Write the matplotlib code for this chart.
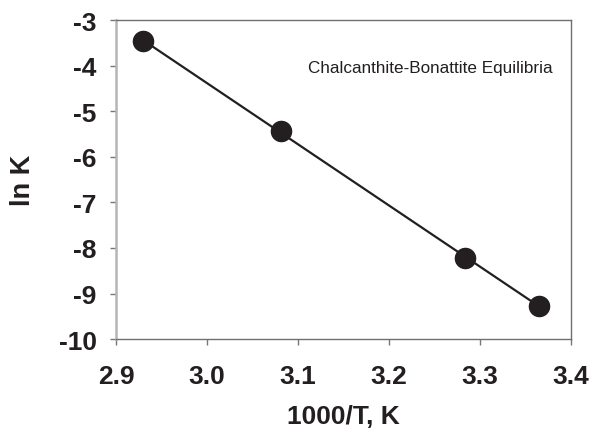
import numpy as np
import matplotlib
matplotlib.use("Agg")
import matplotlib.pyplot as plt

x_vals = [2.930, 3.081, 3.283, 3.365]
y_vals = [-3.46, -5.42, -8.22, -9.27]
x_ticks = [2.9, 3.0, 3.1, 3.2, 3.3, 3.4]
y_ticks = [-10, -9, -8, -7, -6, -5, -4, -3]
title_text = "Chalcanthite-Bonattite Equilibria"

plt.rcParams['font.family'] = ['Liberation Sans', 'DejaVu Sans']

fig = plt.figure(figsize=(5.91, 4.31), dpi=100)
ax = fig.add_axes([0.1963, 0.2111, 0.9662 - 0.1963, 0.9503 - 0.2111])

coef = np.polyfit(x_vals, y_vals, 1)
xl = np.array([min(x_vals), max(x_vals)])
ax.plot(xl, np.polyval(coef, xl), color='#231f20', lw=1.6, zorder=2)
ax.plot(x_vals, y_vals, 'o', color='#231f20', markersize=14.5, zorder=3)

ax.set_xlim(2.9, 3.4)
ax.set_ylim(-10, -3)
ax.set_xticks(x_ticks)
ax.set_xticklabels([f"{v:.1f}" for v in x_ticks])
ax.set_yticks(y_ticks)
ax.set_yticklabels([str(v) for v in y_ticks])

for lab in ax.get_xticklabels() + ax.get_yticklabels():
    lab.set_fontweight('bold')
    lab.set_fontsize(19)
    lab.set_color('#231f20')

ax.tick_params(axis='both', direction='out', length=4, width=1, color='#777777')
ax.tick_params(axis='y', pad=10)
ax.tick_params(axis='x', pad=14)

ax.spines['left'].set_color('#b5b5b5')
ax.spines['left'].set_linewidth(1.8)
for s in ['top', 'right', 'bottom']:
    ax.spines[s].set_color('#707070')
    ax.spines[s].set_linewidth(1.0)

ax.set_xlabel("1000/T, K", fontsize=19, fontweight='bold', color='#231f20', labelpad=12)
ax.set_ylabel("ln K", fontsize=19.5, fontweight='bold', color='#231f20', labelpad=18)
ax.xaxis.set_label_coords(0.5, (340 - 417) / (340 - 21.4) , transform=ax.transAxes)
ax.xaxis.label.set_va('center')
ax.yaxis.set_label_coords((23 - 116) / (571 - 116), 0.5, transform=ax.transAxes)
ax.yaxis.label.set_va('center')

ax.text(0.96, 0.851, title_text, transform=ax.transAxes, ha='right', va='center',
        fontsize=12.3, color='#231f20')

fig.savefig("out.png", dpi=100)
